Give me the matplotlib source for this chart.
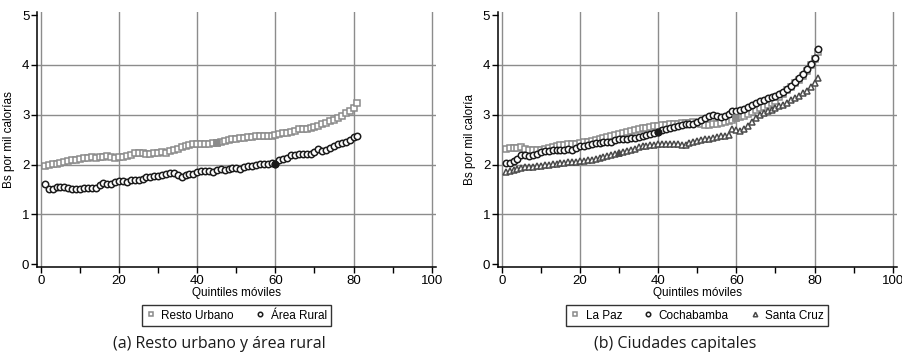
import matplotlib as mpl
mpl.use("Agg")
from matplotlib import pyplot as plt
import numpy as np

plt.rcParams["font.family"] = ["Liberation Sans", "DejaVu Sans"]

# moving-quintile index, 1..81
quintil = np.arange(1, 82)

resto_urbano = [
    1.97, 2.00, 2.01, 2.02, 2.03, 2.05, 2.07, 2.09, 2.10, 2.12,
    2.13, 2.14, 2.15, 2.14, 2.15, 2.16, 2.17, 2.15, 2.14, 2.15,
    2.16, 2.18, 2.20, 2.23, 2.24, 2.24, 2.22, 2.22, 2.23, 2.24,
    2.25, 2.24, 2.27, 2.29, 2.32, 2.35, 2.38, 2.40, 2.41, 2.41,
    2.41, 2.41, 2.42, 2.44, 2.44, 2.46, 2.48, 2.50, 2.51, 2.52,
    2.53, 2.54, 2.55, 2.56, 2.57, 2.57, 2.58, 2.57, 2.58, 2.60,
    2.61, 2.63, 2.64, 2.66, 2.68, 2.71, 2.72, 2.72, 2.73, 2.75,
    2.78, 2.81, 2.84, 2.87, 2.90, 2.94, 2.97, 3.03, 3.08, 3.14,
    3.24,
]
area_rural = [
    1.62, 1.51, 1.52, 1.55, 1.55, 1.56, 1.53, 1.52, 1.52, 1.51,
    1.53, 1.53, 1.53, 1.54, 1.59, 1.63, 1.62, 1.61, 1.66, 1.67,
    1.67, 1.66, 1.70, 1.69, 1.70, 1.72, 1.75, 1.76, 1.77, 1.78,
    1.79, 1.81, 1.83, 1.84, 1.80, 1.75, 1.79, 1.81, 1.82, 1.85,
    1.87, 1.88, 1.88, 1.85, 1.89, 1.92, 1.90, 1.92, 1.94, 1.93,
    1.92, 1.95, 1.97, 1.98, 2.00, 2.01, 2.02, 2.02, 2.03, 2.02,
    2.10, 2.12, 2.13, 2.19, 2.20, 2.21, 2.21, 2.22, 2.22, 2.26,
    2.32, 2.28, 2.30, 2.34, 2.38, 2.41, 2.43, 2.46, 2.49, 2.56,
    2.58,
]
la_paz = [
    2.32, 2.33, 2.33, 2.34, 2.35, 2.31, 2.30, 2.30, 2.29, 2.29,
    2.31, 2.33, 2.36, 2.38, 2.40, 2.40, 2.41, 2.41, 2.42, 2.44,
    2.45, 2.46, 2.48, 2.50, 2.52, 2.54, 2.56, 2.58, 2.60, 2.62,
    2.64, 2.66, 2.67, 2.69, 2.71, 2.73, 2.74, 2.75, 2.77, 2.78,
    2.79, 2.80, 2.81, 2.82, 2.82, 2.83, 2.84, 2.84, 2.85, 2.83,
    2.81, 2.80, 2.80, 2.81, 2.82, 2.84, 2.86, 2.87, 2.90, 2.93,
    2.95, 2.98, 3.01, 3.05, 3.09, 3.14, 3.16, 3.20, 3.23, 3.28,
    3.35, 3.42, 3.49, 3.56, 3.63, 3.69, 3.77, 3.88, 4.00, 4.12,
    4.25,
]
cochabamba = [
    2.04, 2.03, 2.08, 2.12, 2.19, 2.19, 2.18, 2.19, 2.22, 2.25,
    2.27, 2.28, 2.29, 2.29, 2.30, 2.29, 2.32, 2.30, 2.33, 2.37,
    2.38, 2.40, 2.42, 2.43, 2.44, 2.46, 2.45, 2.46, 2.49, 2.51,
    2.52, 2.52, 2.53, 2.54, 2.56, 2.58, 2.60, 2.62, 2.63, 2.66,
    2.69, 2.72, 2.74, 2.76, 2.78, 2.79, 2.81, 2.82, 2.82, 2.85,
    2.90, 2.94, 2.97, 2.99, 2.97, 2.96, 2.97, 3.02, 3.08, 3.08,
    3.10, 3.12, 3.15, 3.19, 3.23, 3.27, 3.30, 3.33, 3.35, 3.38,
    3.42, 3.46, 3.51, 3.57, 3.65, 3.74, 3.82, 3.91, 4.02, 4.13,
    4.32,
]
santa_cruz = [
    1.85, 1.87, 1.89, 1.92, 1.94, 1.95, 1.96, 1.96, 1.97, 1.98,
    1.99, 2.00, 2.01, 2.02, 2.03, 2.04, 2.05, 2.05, 2.06, 2.07,
    2.08, 2.09, 2.10, 2.11, 2.13, 2.15, 2.17, 2.19, 2.21, 2.23,
    2.25, 2.27, 2.29, 2.32, 2.35, 2.37, 2.38, 2.39, 2.39, 2.41,
    2.42, 2.42, 2.42, 2.41, 2.41, 2.40, 2.40, 2.43, 2.45, 2.47,
    2.50, 2.51, 2.52, 2.54, 2.55, 2.57, 2.58, 2.60, 2.72, 2.69,
    2.67, 2.71, 2.78, 2.85, 2.94, 2.99, 3.03, 3.07, 3.10, 3.13,
    3.17, 3.20, 3.24, 3.29, 3.33, 3.38, 3.43, 3.47, 3.55, 3.64,
    3.74,
]

# one solid marker per series (quintile boundary)
solido = {"Resto Urbano": 45, "Área Rural": 60,
          "La Paz": 60, "Cochabamba": 40, "Santa Cruz": 30}

paneles = [
    ("Bs por mil calorías", "(a) Resto urbano y área rural",
     [("Resto Urbano", resto_urbano, "s", "#8a8a8a"),
      ("Área Rural", area_rural, "o", "#1a1a1a")]),
    ("Bs por mil caloría", "(b) Ciudades capitales",
     [("La Paz", la_paz, "s", "#8a8a8a"),
      ("Cochabamba", cochabamba, "o", "#1a1a1a"),
      ("Santa Cruz", santa_cruz, "^", "#4a4a4a")]),
]

fig = plt.figure(figsize=(9.02, 3.55), dpi=100)
rects = [[0.041, 0.248, 0.442, 0.718], [0.552, 0.248, 0.442, 0.718]]
capx = [0.243, 0.748]

for rect, cx, (ylab, cap, series) in zip(rects, capx, paneles):
    ax = fig.add_axes(rect)
    for y in [1, 2, 3, 4]:
        ax.axhline(y, color="#8c8c8c", lw=1.0, zorder=0)
    for x in range(0, 101, 20):
        ax.axvline(x, color="#8c8c8c", lw=1.0, zorder=0)

    for name, vals, mk, col in series:
        vals = np.asarray(vals)
        ax.plot(quintil, vals, ls="none", marker=mk, ms=4.6, mew=1.1,
                mfc="white", mec=col, label=name, zorder=3)
        i = solido[name] - 1
        ax.plot(quintil[i], vals[i], ls="none", marker=mk, ms=4.6, mew=1.1,
                mfc=col, mec=col, zorder=4)

    ax.set_xlim(-1.0, 101.0)
    ax.set_ylim(-0.054, 5.06)
    ax.set_xticks(range(0, 101, 10))
    ax.set_xticklabels([str(t) if t % 20 == 0 else "" for t in range(0, 101, 10)])
    ax.set_yticks(range(0, 6))
    ax.tick_params(direction="out", length=4, width=1, labelsize=9.5,
                   color="black", pad=1.5)
    for s in ["top", "right"]:
        ax.spines[s].set_visible(False)
    for s in ["left", "bottom"]:
        ax.spines[s].set_linewidth(1.1)
    ax.set_xlabel("Quintiles móviles", fontsize=8.5, labelpad=0)
    ax.set_ylabel(ylab, fontsize=8.5, labelpad=5)

    leg = ax.legend(loc="upper center", bbox_to_anchor=(0.5, -0.128),
                    ncol=len(series), fontsize=8.5, markerscale=0.7,
                    handlelength=0.8, handletextpad=0.5, columnspacing=1.8,
                    borderpad=0.35, fancybox=False, frameon=True)
    leg.get_frame().set_edgecolor("black")
    leg.get_frame().set_linewidth(1.0)

    fig.text(cx, 1 - 344 / 355, cap, ha="center", va="center",
             fontsize=11.5, family=["Open Sans", "DejaVu Sans"],
             color="#1a1a1a")

fig.savefig("out.png", dpi=100)
